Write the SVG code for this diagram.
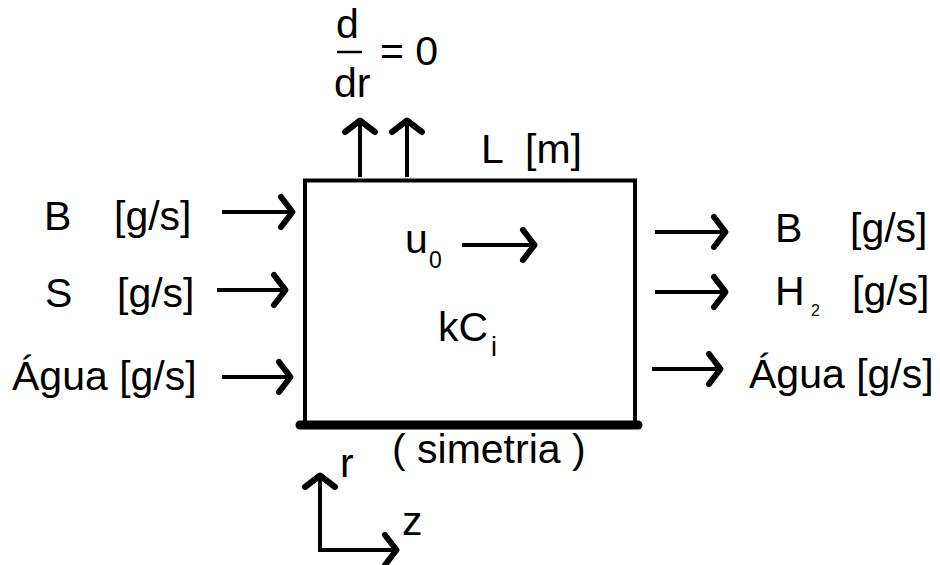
<svg xmlns="http://www.w3.org/2000/svg" width="940" height="565" viewBox="0 0 940 565">
<style>
  text { font-family: "Liberation Sans", Arial, sans-serif; font-size: 41px; fill: #000; }
  .sub { font-size: 23px; }
  .sub2 { font-size: 16px; }
  .subi { font-size: 27px; }
  .arr { stroke: #000; stroke-width: 4; fill: none; marker-end: url(#ah); }
  .box { stroke: #000; stroke-width: 4; fill: #fff; }
</style>
<defs>
  <marker id="ah" markerUnits="userSpaceOnUse" markerWidth="40" markerHeight="40" viewBox="-20 -20 40 40" refX="0" refY="0" orient="auto" overflow="visible">
    <path d="M-13,-15 L-1.5,0 L-13,15" fill="none" stroke="#000" stroke-width="6" stroke-linecap="round" stroke-linejoin="round"/>
  </marker>
</defs>
<rect width="940" height="565" fill="#fff"/>

<g id="reactor">
  <rect class="box" x="305" y="180.5" width="330" height="244"/>
  <line x1="300" y1="425" x2="638" y2="425" stroke="#000" stroke-width="9" stroke-linecap="round"/>
  <text x="481" y="163">L</text>
  <text x="525" y="163">[m]</text>
  <text x="405" y="253">u</text>
  <text class="sub" x="429" y="268">0</text>
  <text x="438" y="341">kC</text>
  <text class="subi" x="491" y="356">i</text>
  <text x="392" y="463">( simetria )</text>
</g>

<g id="boundary-condition">
  <text x="336" y="38">d</text>
  <line x1="337" y1="52" x2="362" y2="52" stroke="#000" stroke-width="2.5"/>
  <text x="334" y="97">dr</text>
  <text x="380" y="65">= 0</text>
</g>

<g id="inlet-labels">
  <text x="44" y="230">B</text>
  <text x="114" y="230">[g/s]</text>
  <text x="45" y="307">S</text>
  <text x="117" y="307">[g/s]</text>
  <text x="12" y="390">Água [g/s]</text>
</g>

<g id="outlet-labels">
  <text x="775" y="242">B</text>
  <text x="850" y="242">[g/s]</text>
  <text x="775" y="305">H</text>
  <text class="sub2" x="811" y="316">2</text>
  <text x="852" y="305">[g/s]</text>
  <text x="749" y="388">Água [g/s]</text>
</g>

<g id="axes">
  <path d="M320,550 V474" class="arr"/>
  <path d="M320,550 H398" class="arr"/>
  <line x1="318" y1="550" x2="322" y2="550" stroke="#000" stroke-width="4"/>
  <text x="340" y="477">r</text>
  <text x="402" y="535">z</text>
</g>

<g id="connectors">
  <line class="arr" x1="360" y1="177" x2="360" y2="119"/>
  <line class="arr" x1="407" y1="177" x2="407" y2="119"/>
  <line class="arr" x1="222" y1="212" x2="294" y2="212"/>
  <line class="arr" x1="217" y1="290" x2="287" y2="290"/>
  <line class="arr" x1="222" y1="377" x2="292" y2="377"/>
  <line class="arr" x1="655" y1="232" x2="727" y2="232"/>
  <line class="arr" x1="655" y1="292" x2="727" y2="292"/>
  <line class="arr" x1="652" y1="369" x2="722" y2="369"/>
  <line class="arr" x1="462" y1="245" x2="536" y2="245"/>
</g>
</svg>
